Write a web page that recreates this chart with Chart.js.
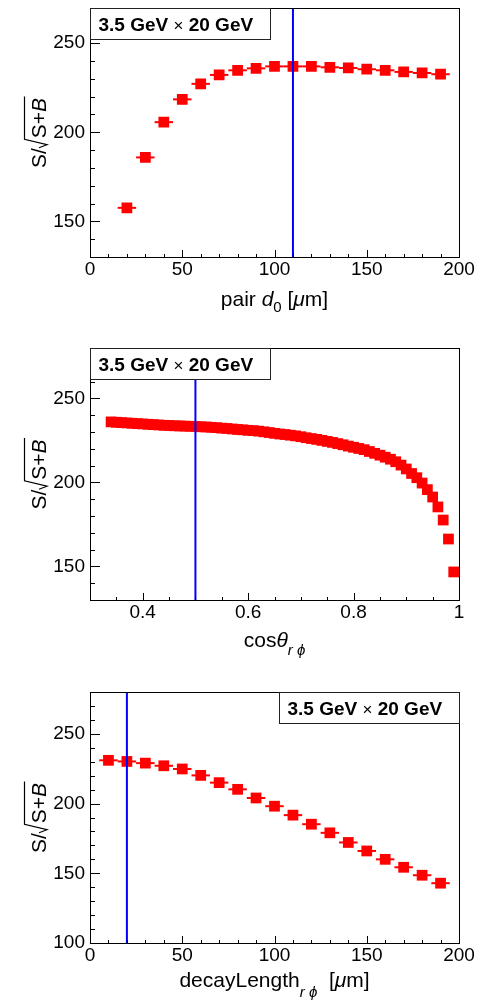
<!DOCTYPE html>
<html>
<head>
<meta charset="utf-8">
<script src="https://cdn.jsdelivr.net/npm/chart.js@4.4.1/dist/chart.umd.min.js"></script>
<style>
  html, body { margin: 0; padding: 0; background: #fff; }
  #wrap { position: relative; width: 482px; height: 1002px; }
  canvas { position: absolute; left: 0; }
</style>
</head>
<body>
<div id="wrap">
  <canvas id="c1" width="482" height="330" style="top:0"></canvas>
  <canvas id="c2" width="482" height="330" style="top:330px"></canvas>
  <canvas id="c3" width="482" height="342" style="top:660px"></canvas>
</div>
<script>
// ---------- datos ----------
var d0X = [20, 30, 40, 50, 60, 70, 80, 90, 100, 110, 120, 130, 140, 150, 160, 170, 180, 190];
var d0Y = [157.6, 185.9, 205.7, 218.5, 227.2, 232.2, 234.8, 235.9, 237.0, 237.0, 237.0, 236.5, 236.1, 235.4, 234.8, 233.9, 233.3, 232.6];

var cosX = [0.34, 0.35, 0.36, 0.37, 0.38, 0.39, 0.40, 0.41, 0.42, 0.43, 0.44, 0.45, 0.46, 0.47, 0.48, 0.49,
            0.50, 0.51, 0.52, 0.53, 0.54, 0.55, 0.56, 0.57, 0.58, 0.59, 0.60, 0.61, 0.62, 0.63, 0.64, 0.65,
            0.66, 0.67, 0.68, 0.69, 0.70, 0.71, 0.72, 0.73, 0.74, 0.75, 0.76, 0.77, 0.78, 0.79, 0.80, 0.81,
            0.82, 0.83, 0.84, 0.85, 0.86, 0.87, 0.88, 0.89, 0.90, 0.91, 0.92, 0.93, 0.94, 0.95, 0.96, 0.97,
            0.98, 0.99];
var cosY = [236.0, 235.8, 235.6, 235.4, 235.2, 235.0, 234.8, 234.6, 234.4, 234.2, 234.0, 233.9, 233.7, 233.6, 233.5, 233.4,
            233.3, 233.1, 233.0, 232.8, 232.6, 232.3, 232.1, 231.8, 231.5, 231.3, 231.0, 230.8, 230.5, 230.1, 229.7, 229.2,
            228.8, 228.5, 228.1, 227.7, 227.2, 226.6, 226.1, 225.6, 225.0, 224.4, 223.8, 223.1, 222.4, 221.6, 220.9, 220.2,
            219.5, 218.4, 217.3, 216.2, 215.0, 213.8, 212.3, 210.3, 208.0, 205.3, 202.8, 199.6, 195.7, 191.3, 185.4, 177.6,
            166.3, 146.7];

var dlX = [10, 20, 30, 40, 50, 60, 70, 80, 90, 100, 110, 120, 130, 140, 150, 160, 170, 180, 190];
var dlY = [231.0, 230.2, 229.0, 227.1, 224.8, 220.2, 215.0, 210.2, 204.0, 198.1, 191.7, 185.2, 179.0, 172.1, 166.0, 160.0, 154.3, 148.6, 142.9];

// ticks con etiqueta
var umTicks = [0, 50, 100, 150, 200];
var cosTicks = [0.4, 0.6, 0.8, 1];
var y1Ticks = [150, 200, 250];
var y2Ticks = [150, 200, 250];
var y3Ticks = [100, 150, 200, 250];

var cortes = [110, 0.5, 20];
var leyenda = ['3.5 GeV ', '\u00d7', ' 20 GeV'];

// ---------- helpers ----------
var FAM = '"Liberation Sans", Arial, Helvetica, sans-serif';
function F(size, style) { return (style ? style + ' ' : '') + size + 'px ' + FAM; }

function drawPieces(ctx, pieces, cx, base) {
    var total = 0;
    pieces.forEach(function (p) { ctx.font = p.f; p.w = ctx.measureText(p.t).width; total += p.w; });
    var x = cx - total / 2;
    ctx.textAlign = 'left';
    ctx.textBaseline = 'alphabetic';
    ctx.fillStyle = '#000';
    pieces.forEach(function (p) { ctx.font = p.f; ctx.fillText(p.t, x, base + (p.dy || 0)); x += p.w; });
}

// S/sqrt(S+B) rotado
function drawYTitle(ctx, bx, cy) {
    ctx.save();
    ctx.translate(bx, cy);
    ctx.rotate(-Math.PI / 2);
    ctx.textAlign = 'left';
    ctx.textBaseline = 'alphabetic';
    ctx.fillStyle = '#000';
    ctx.font = F(21);
    var w1 = ctx.measureText('S/').width;
    var w2 = ctx.measureText('S+').width;
    ctx.font = F(21, 'italic');
    var w3 = ctx.measureText('B').width;
    var radW = 10;
    var total = w1 + radW + w2 + w3 + 1;
    var x = -total / 2;
    ctx.font = F(21);
    ctx.fillText('S/', x, 0);
    var xr = x + w1;
    ctx.strokeStyle = '#000';
    ctx.lineWidth = 1.2;
    ctx.beginPath();
    ctx.moveTo(xr + 0.5, -7);
    ctx.lineTo(xr + 3.5, 1);
    ctx.lineTo(xr + radW - 1, -21.5);
    ctx.lineTo(xr + radW + w2 + w3 + 1.5, -21.5);
    ctx.stroke();
    ctx.fillText('S+', xr + radW, 0);
    ctx.font = F(21, 'italic');
    ctx.fillText('B', xr + radW + w2, 0);
    ctx.restore();
}

function drawLegend(ctx, left, top) {
    var w = 180, h = 31;
    ctx.fillStyle = '#fff';
    ctx.fillRect(left, top, w, h);
    ctx.strokeStyle = '#222';
    ctx.lineWidth = 1;
    ctx.strokeRect(left + 0.5, top + 0.5, w, h);
    var fonts = [F(19, 'bold'), F(17), F(19, 'bold')];
    var x = left + 8.5;
    ctx.fillStyle = '#000';
    ctx.textAlign = 'left';
    ctx.textBaseline = 'alphabetic';
    leyenda.forEach(function (t, i) {
        ctx.font = fonts[i];
        ctx.fillText(t, x, top + 23);
        x += ctx.measureText(t).width;
    });
}

function rootPlugin(p) {
    return {
        id: 'rootStyle',
        beforeDatasetsDraw: function (chart) {
            var ctx = chart.ctx, xs = chart.scales.x, ys = chart.scales.y;
            if (!p.half) return;
            ctx.save();
            ctx.strokeStyle = '#ff0000';
            ctx.lineWidth = 2;
            p.xs.forEach(function (xv, i) {
                var y = ys.getPixelForValue(p.ys[i]);
                ctx.beginPath();
                ctx.moveTo(xs.getPixelForValue(xv - p.half), y);
                ctx.lineTo(xs.getPixelForValue(xv + p.half), y);
                ctx.stroke();
            });
            ctx.restore();
        },
        afterDatasetsDraw: function (chart) {
            var ctx = chart.ctx, a = chart.chartArea, xs = chart.scales.x, ys = chart.scales.y;
            var L = Math.round(a.left), R = Math.round(a.right), T = Math.round(a.top), B = Math.round(a.bottom);
            ctx.save();
            // linea de corte
            var xc = xs.getPixelForValue(p.cut);
            ctx.strokeStyle = '#0000ff';
            ctx.lineWidth = 2;
            ctx.beginPath();
            ctx.moveTo(xc, T);
            ctx.lineTo(xc, B);
            ctx.stroke();
            // marco
            ctx.strokeStyle = '#000';
            ctx.lineWidth = 1;
            ctx.strokeRect(L + 0.5, T + 0.5, R - L, B - T);
            // ticks eje y
            ctx.beginPath();
            var k, v, px, major;
            for (k = Math.ceil(p.yMin / p.yMinor - 1e-6); ; k++) {
                v = k * p.yMinor;
                if (v > p.yMax + 1e-6) break;
                major = Math.abs(v / p.yStep - Math.round(v / p.yStep)) < 1e-6;
                px = Math.round(ys.getPixelForValue(v)) + 0.5;
                ctx.moveTo(L, px);
                ctx.lineTo(L + (major ? 10 : 5), px);
            }
            // ticks eje x
            for (k = Math.ceil(p.xMin / p.xMinor - 1e-6); ; k++) {
                v = k * p.xMinor;
                if (v > p.xMax + 1e-6) break;
                major = Math.abs(v / p.xStep - Math.round(v / p.xStep)) < 1e-6;
                px = Math.round(xs.getPixelForValue(v)) + 0.5;
                ctx.moveTo(px, B + 1);
                ctx.lineTo(px, B + 1 - (major ? 8 : 4));
            }
            ctx.stroke();
            // leyenda
            drawLegend(ctx, p.legendRight ? R - 180 : L, T);
            // titulos
            drawYTitle(ctx, 46, (T + B) / 2);
            drawPieces(ctx, p.xTitle, (L + R) / 2, B + p.titleOff);
            ctx.restore();
        }
    };
}

function makePanel(id, p) {
    var pts = p.xs.map(function (x, i) { return { x: x, y: p.ys[i] }; });
    var canvas = document.getElementById(id);
    var tickFont = { family: FAM, size: 19 };
    return new Chart(canvas, {
        type: 'scatter',
        data: {
            datasets: [{
                data: pts,
                pointStyle: 'rect',
                pointRadius: 7.6,
                pointHoverRadius: 7.6,
                pointBackgroundColor: '#ff0000',
                pointBorderWidth: 0,
                borderWidth: 0,
                showLine: false
            }]
        },
        options: {
            responsive: false,
            animation: false,
            devicePixelRatio: 1,
            events: [],
            layout: { padding: { left: 0, right: 23, top: p.top, bottom: 0 } },
            plugins: { legend: { display: false }, tooltip: { enabled: false } },
            scales: {
                x: {
                    type: 'linear',
                    min: p.xMin,
                    max: p.xMax,
                    grid: { display: false, drawTicks: false },
                    border: { display: false },
                    ticks: {
                        autoSkip: false,
                        maxRotation: 0,
                        padding: 1,
                        color: '#000',
                        font: tickFont,
                        callback: function (v) { return String(+v.toFixed(2)); }
                    },
                    afterBuildTicks: function (s) { s.ticks = p.xTicks.map(function (v) { return { value: v }; }); },
                    afterFit: function (s) { s.height = p.xAxisH; s.paddingLeft = 0; s.paddingRight = 0; }
                },
                y: {
                    type: 'linear',
                    min: p.yMin,
                    max: p.yMax,
                    grid: { display: false, drawTicks: false },
                    border: { display: false },
                    ticks: {
                        autoSkip: false,
                        padding: 5,
                        color: '#000',
                        font: tickFont,
                        callback: function (v) { return String(v); }
                    },
                    afterBuildTicks: function (s) { s.ticks = p.yTicks.map(function (v) { return { value: v }; }); },
                    afterFit: function (s) { s.width = 90; s.paddingTop = 0; s.paddingBottom = 0; }
                }
            }
        },
        plugins: [rootPlugin(p)]
    });
}

var tF = F(21), tI = F(21, 'italic'), sI = F(15, 'italic'), sN = F(15);

makePanel('c1', {
    xs: d0X, ys: d0Y, half: 5, cut: cortes[0],
    xMin: 0, xMax: 200, xStep: 50, xMinor: 10, xTicks: umTicks,
    yMin: 130, yMax: 270, yStep: 50, yMinor: 10, yTicks: y1Ticks,
    top: 5, xAxisH: 73, titleOff: 49, legendRight: false,
    xTitle: [{ t: 'pair ', f: tF }, { t: 'd', f: tI }, { t: '0', f: sN, dy: 6 }, { t: ' [', f: tF }, { t: '\u03bc', f: tI }, { t: 'm]', f: tF }]
});

makePanel('c2', {
    xs: cosX, ys: cosY, half: 0, cut: cortes[1],
    xMin: 0.3, xMax: 1, xStep: 0.2, xMinor: 0.05, xTicks: cosTicks,
    yMin: 130, yMax: 280, yStep: 50, yMinor: 10, yTicks: y2Ticks,
    top: 18, xAxisH: 60, titleOff: 47, legendRight: false,
    xTitle: [{ t: 'cos', f: tF }, { t: '\u03b8', f: tI }, { t: 'r \u03d5', f: sI, dy: 8 }]
});

makePanel('c3', {
    xs: dlX, ys: dlY, half: 5, cut: cortes[2],
    xMin: 0, xMax: 200, xStep: 50, xMinor: 10, xTicks: umTicks,
    yMin: 100, yMax: 280, yStep: 50, yMinor: 10, yTicks: y3Ticks,
    top: 32, xAxisH: 59, titleOff: 44, legendRight: true,
    xTitle: [{ t: 'decayLength', f: tF }, { t: 'r \u03d5', f: sI, dy: 10 }, { t: '  [', f: tF }, { t: '\u03bc', f: tI }, { t: 'm]', f: tF }]
});
</script>
</body>
</html>
